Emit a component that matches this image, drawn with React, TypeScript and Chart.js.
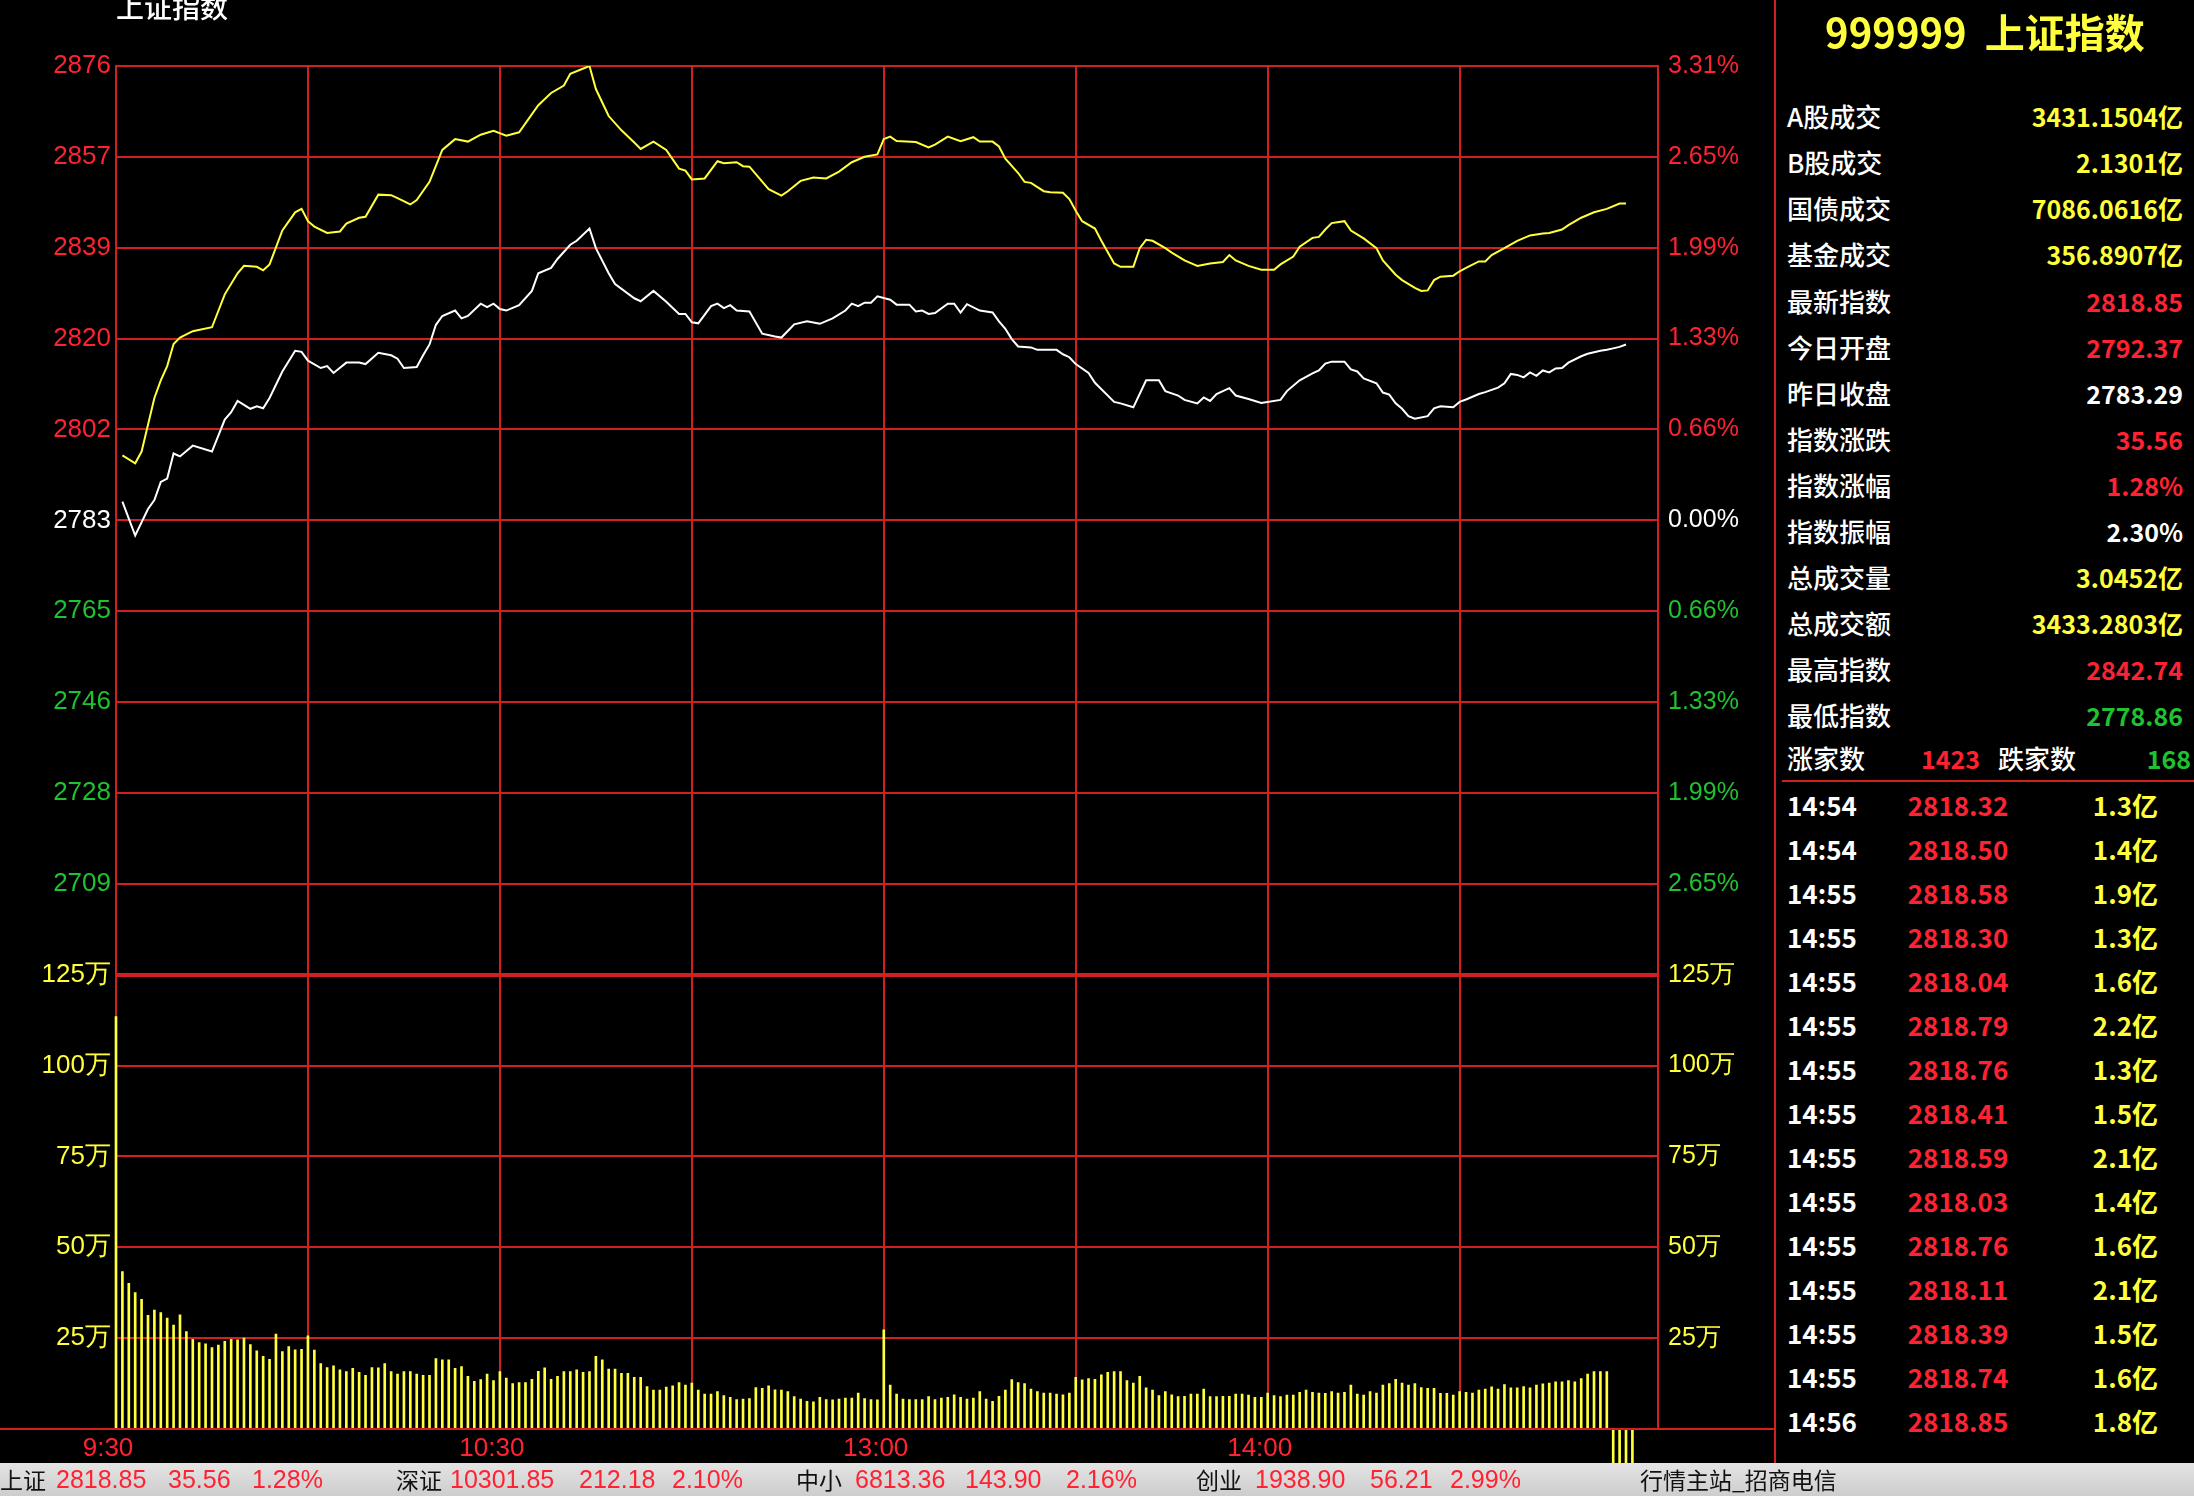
import React, { useEffect, useRef } from 'react';
import { Chart, registerables } from 'chart.js';

Chart.register(...registerables);

// ---------------- data ----------------
const prevClose = 2783.29;
const priceStep = 18.5;
const priceTickLabels = ['2876', '2857', '2839', '2820', '2802', '2783', '2765', '2746', '2728', '2709'];
const pctTickLabels = ['3.31%', '2.65%', '1.99%', '1.33%', '0.66%', '0.00%', '0.66%', '1.33%', '1.99%', '2.65%'];
const volTickValues = [0, 25, 50, 75, 100, 125];
const volTickLabels = ['', '25万', '50万', '75万', '100万', '125万'];
const sessionSlots = 241; // 9:30 .. 15:00, one slot per minute
const timeGridValues = [0, 30, 60, 90, 120, 150, 180, 210];
const timeTickValues = [0, 60, 120, 180];
const timeTickLabels = ['9:30', '10:30', '13:00', '14:00'];

// per-minute volume (万), index = minutes after 9:30
const volumes = [
  113.5, 43.3, 40.1, 37.5, 35.7, 31.3, 32.7, 32.0, 30.5, 28.6,
  31.4, 26.8, 24.7, 23.8, 23.4, 22.4, 23.1, 24.1, 24.7, 24.5,
  25.0, 23.2, 21.5, 20.0, 19.2, 26.1, 21.3, 22.7, 21.8, 21.9,
  25.6, 21.7, 18.0, 16.9, 17.4, 16.3, 15.8, 16.7, 15.6, 14.8,
  16.9, 16.8, 18.0, 15.8, 15.1, 15.8, 15.8, 15.1, 14.8, 14.8,
  19.4, 19.0, 19.0, 16.7, 17.2, 14.5, 13.1, 13.6, 15.1, 13.3,
  15.8, 14.0, 12.5, 12.8, 12.8, 13.7, 15.9, 16.8, 13.7, 14.5,
  15.8, 15.8, 16.3, 15.6, 15.8, 20.0, 19.0, 16.5, 16.5, 15.3,
  15.3, 14.2, 14.2, 11.7, 10.7, 10.7, 11.5, 11.9, 12.8, 12.1,
  12.6, 10.7, 9.6, 9.6, 10.3, 9.2, 8.7, 8.1, 8.2, 8.4,
  11.4, 11.2, 11.9, 10.8, 10.7, 10.3, 8.9, 8.2, 7.6, 7.5,
  8.7, 8.1, 8.0, 8.2, 8.5, 8.5, 9.9, 8.4, 8.1, 8.0,
  27.3, 12.1, 9.6, 8.2, 8.1, 8.1, 8.1, 8.9, 8.1, 8.5,
  8.7, 9.4, 8.7, 8.2, 8.5, 10.3, 8.2, 7.6, 9.0, 10.7,
  13.6, 12.8, 12.5, 11.0, 10.3, 9.9, 9.9, 9.6, 9.4, 9.9,
  14.2, 13.5, 13.9, 13.7, 14.9, 15.6, 15.8, 15.8, 13.3, 12.6,
  14.5, 11.3, 10.7, 9.2, 10.3, 9.4, 8.9, 9.0, 9.6, 9.6,
  11.0, 8.9, 8.9, 9.0, 9.0, 9.6, 9.6, 9.3, 8.7, 8.7,
  9.9, 9.2, 8.9, 9.3, 9.3, 10.1, 10.7, 10.1, 9.9, 9.8,
  10.3, 9.9, 10.1, 12.1, 9.6, 9.3, 10.3, 9.9, 12.1, 12.5,
  13.7, 12.6, 12.1, 12.5, 11.4, 11.2, 11.2, 9.8, 9.8, 9.3,
  10.3, 10.1, 9.9, 10.7, 11.0, 11.6, 11.0, 12.2, 11.3, 11.3,
  11.7, 11.3, 12.1, 12.4, 12.6, 13.0, 13.0, 13.3, 13.0, 13.9,
  15.1, 15.8, 15.8, 15.8, -9.5, -9.5, -9.5, -9.5,
];

// [minute, value]
const yellowLine: [number, number][] = [
  [1, 2796.5], [3, 2794.9], [4, 2797.3], [6, 2808.2], [7, 2811.8], [8, 2814.7], [9, 2819.2], [10, 2820.5],
  [12, 2821.8], [15, 2822.6], [17, 2829.3], [19, 2833.6], [20, 2835.1], [22, 2834.9], [23, 2834.2], [24, 2835.4],
  [26, 2842.3], [28, 2846.0], [29, 2846.7], [30, 2844.2], [31, 2843.1], [33, 2841.8], [35, 2842.1], [36, 2843.7],
  [38, 2844.9], [39, 2845.1], [41, 2849.6], [43, 2849.5], [44, 2848.9], [46, 2847.6], [47, 2848.5], [49, 2852.2],
  [51, 2858.7], [53, 2860.9], [55, 2860.4], [57, 2861.8], [59, 2862.6], [61, 2861.6], [63, 2862.3], [66, 2867.8],
  [68, 2870.3], [70, 2871.8], [71, 2874.2], [74, 2875.8], [75, 2871.1], [77, 2865.6], [79, 2862.7], [81, 2860.2],
  [82, 2858.9], [84, 2860.4], [86, 2858.7], [88, 2854.9], [89, 2854.5], [90, 2852.7], [92, 2852.9], [94, 2856.4],
  [95, 2856.0], [97, 2856.2], [98, 2855.4], [99, 2855.3], [102, 2850.7], [104, 2849.4], [105, 2850.3], [107, 2852.4],
  [109, 2853.1], [111, 2852.9], [113, 2854.3], [115, 2856.2], [117, 2857.3], [119, 2857.8], [120, 2860.9], [121, 2861.4],
  [122, 2860.5], [125, 2860.3], [127, 2859.2], [128, 2859.8], [130, 2861.4], [132, 2860.5], [134, 2861.3], [135, 2860.4],
  [137, 2860.4], [138, 2859.4], [139, 2856.9], [141, 2854.0], [142, 2852.2], [143, 2852.0], [145, 2850.3], [146, 2850.1],
  [148, 2850.0], [149, 2848.7], [150, 2846.3], [151, 2844.2], [153, 2842.7], [154, 2840.2], [156, 2835.6], [157, 2834.9],
  [159, 2834.9], [160, 2838.7], [161, 2840.4], [162, 2840.2], [164, 2838.7], [165, 2837.8], [167, 2836.2], [169, 2835.1],
  [171, 2835.6], [173, 2835.9], [174, 2837.3], [175, 2836.2], [177, 2835.1], [179, 2834.3], [181, 2834.3], [182, 2835.4],
  [184, 2837.0], [185, 2839.0], [187, 2840.8], [188, 2841.0], [189, 2842.5], [190, 2843.8], [192, 2844.2], [193, 2842.3],
  [195, 2840.7], [197, 2838.7], [198, 2836.2], [200, 2833.3], [201, 2832.2], [203, 2830.6], [204, 2830.0], [205, 2830.1],
  [206, 2832.2], [207, 2832.9], [209, 2833.1], [210, 2834.0], [211, 2834.7], [213, 2836.0], [214, 2836.0], [215, 2837.3],
  [217, 2838.7], [219, 2840.2], [221, 2841.3], [223, 2841.7], [224, 2841.8], [226, 2842.5], [227, 2843.4], [229, 2844.9],
  [231, 2846.0], [233, 2846.7], [235, 2847.8], [236, 2847.8],
];

const whiteLine: [number, number][] = [
  [1, 2787.1], [3, 2780.2], [5, 2785.6], [6, 2787.4], [7, 2791.1], [8, 2791.8], [9, 2796.9], [10, 2796.3],
  [12, 2798.5], [15, 2797.3], [17, 2803.8], [18, 2805.3], [19, 2807.6], [21, 2806.0], [22, 2806.5], [23, 2806.1],
  [24, 2808.2], [26, 2813.6], [28, 2817.8], [29, 2817.6], [30, 2815.8], [32, 2814.3], [33, 2814.7], [34, 2813.3],
  [36, 2815.4], [38, 2815.4], [39, 2815.1], [41, 2817.4], [43, 2816.9], [44, 2816.2], [45, 2814.3], [47, 2814.5],
  [48, 2816.9], [49, 2819.1], [50, 2823.1], [51, 2824.9], [53, 2826.0], [54, 2824.4], [55, 2824.9], [57, 2827.4],
  [58, 2826.7], [59, 2827.4], [60, 2826.3], [61, 2826.0], [63, 2827.1], [65, 2830.0], [66, 2833.6], [68, 2834.7],
  [69, 2836.5], [71, 2839.4], [72, 2840.2], [74, 2842.7], [75, 2838.7], [77, 2833.6], [78, 2831.4], [81, 2828.5],
  [82, 2827.9], [84, 2830.0], [86, 2827.8], [88, 2825.3], [89, 2825.3], [90, 2823.6], [91, 2823.4], [93, 2826.9],
  [94, 2827.4], [95, 2826.5], [96, 2827.1], [97, 2826.0], [99, 2825.8], [101, 2821.3], [103, 2820.7], [104, 2820.5],
  [106, 2823.2], [108, 2823.8], [110, 2823.3], [112, 2824.4], [114, 2826.0], [115, 2827.4], [116, 2826.9], [117, 2827.6],
  [118, 2827.6], [119, 2828.9], [121, 2828.2], [122, 2827.2], [124, 2827.2], [125, 2825.8], [126, 2826.0], [127, 2825.3],
  [128, 2825.5], [130, 2827.4], [131, 2827.4], [132, 2825.6], [133, 2827.3], [135, 2826.0], [137, 2825.6], [138, 2823.8],
  [139, 2822.3], [140, 2820.2], [141, 2818.7], [143, 2818.5], [144, 2818.0], [147, 2818.0], [148, 2817.1], [149, 2816.5],
  [150, 2815.1], [152, 2813.3], [153, 2811.3], [156, 2807.4], [157, 2807.1], [159, 2806.3], [161, 2811.8], [163, 2811.8],
  [164, 2809.6], [166, 2808.7], [167, 2807.8], [169, 2807.1], [170, 2808.3], [171, 2807.6], [172, 2809.0], [174, 2810.2],
  [175, 2808.7], [177, 2808.0], [179, 2807.2], [182, 2807.8], [183, 2809.6], [185, 2811.8], [187, 2813.2], [188, 2813.8],
  [189, 2815.2], [190, 2815.6], [192, 2815.6], [193, 2814.0], [194, 2813.6], [195, 2812.2], [197, 2811.2], [198, 2809.3],
  [199, 2808.9], [200, 2807.1], [201, 2806.0], [202, 2804.5], [203, 2804.0], [205, 2804.5], [206, 2806.1], [207, 2806.5],
  [209, 2806.3], [210, 2807.4], [211, 2807.9], [213, 2809.0], [214, 2809.4], [216, 2810.3], [217, 2811.2], [218, 2813.1],
  [219, 2812.9], [220, 2812.4], [221, 2813.4], [222, 2812.7], [223, 2813.8], [224, 2813.4], [225, 2814.2], [226, 2814.3],
  [227, 2815.4], [229, 2816.7], [230, 2817.2], [232, 2817.8], [233, 2818.0], [234, 2818.3], [235, 2818.6], [236, 2819.1],
];

const statLabels = ['A股成交', 'B股成交', '国债成交', '基金成交', '最新指数', '今日开盘', '昨日收盘', '指数涨跌', '指数涨幅', '指数振幅', '总成交量', '总成交额', '最高指数', '最低指数'];
const statValues = ['3431.1504亿', '2.1301亿', '7086.0616亿', '356.8907亿', '2818.85', '2792.37', '2783.29', '35.56', '1.28%', '2.30%', '3.0452亿', '3433.2803亿', '2842.74', '2778.86'];
const statTone = ['y', 'y', 'y', 'y', 'r', 'r', 'w', 'r', 'r', 'w', 'y', 'y', 'r', 'g'];

const tradeTimes = ['14:54', '14:54', '14:55', '14:55', '14:55', '14:55', '14:55', '14:55', '14:55', '14:55', '14:55', '14:55', '14:55', '14:55', '14:56'];
const tradePrices = ['2818.32', '2818.50', '2818.58', '2818.30', '2818.04', '2818.79', '2818.76', '2818.41', '2818.59', '2818.03', '2818.76', '2818.11', '2818.39', '2818.74', '2818.85'];
const tradeVols = ['1.3亿', '1.4亿', '1.9亿', '1.3亿', '1.6亿', '2.2亿', '1.3亿', '1.5亿', '2.1亿', '1.4亿', '1.6亿', '2.1亿', '1.5亿', '1.6亿', '1.8亿'];

const barNames = ['上证', '深证', '中小', '创业'];
const barPrices = ['2818.85', '10301.85', '6813.36', '1938.90'];
const barChanges = ['35.56', '212.18', '143.90', '56.21'];
const barPcts = ['1.28%', '2.10%', '2.16%', '2.99%'];

// ---------------- styles ----------------
const RED_GRID = '#d21f1f';
const RED_TEXT = '#ff2233';
const GREEN_TEXT = '#1fc230';
const YELLOW = '#ffff3c';
const WHITE = '#ffffff';
const CJK = '"Noto Sans CJK SC", "Noto Sans", sans-serif';
const LAT = '"Liberation Sans", Arial, sans-serif';
const toneColor: Record<string, string> = { y: YELLOW, r: RED_TEXT, w: WHITE, g: GREEN_TEXT };

const W = 2194;
const H = 1496;
const CANVAS_W = 1775;
const CANVAS_H = 1463;

function sideColor(j: number) {
  const k = j - 5;
  return k > 0 ? RED_TEXT : k === 0 ? WHITE : GREEN_TEXT;
}

type TP = {
  x: number; y: number; align?: 'left' | 'right' | 'center'; size?: number; color?: string;
  weight?: number; family?: string; children: React.ReactNode; width?: number;
};
function T({ x, y, align = 'left', size = 26, color = WHITE, weight = 400, family = CJK, children, width = 400 }: TP) {
  const style: React.CSSProperties = {
    position: 'absolute', top: y - 25, height: 50, lineHeight: '50px', fontSize: size, color,
    fontWeight: weight, fontFamily: family, whiteSpace: 'pre',
  };
  if (align === 'left') style.left = x;
  else if (align === 'right') style.right = W - x;
  else { style.left = x - width / 2; style.width = width; style.textAlign = 'center'; }
  return <div style={style}>{children}</div>;
}

export default function App() {
  const ref = useRef<HTMLCanvasElement>(null);

  useEffect(() => {
    document.body.style.margin = '0';
    const canvas = ref.current;
    if (!canvas) return;
    const pctStep = (priceStep / prevClose) * 100;
    const priceLevels = Array.from({ length: 11 }, (_, j) => prevClose + (j - 5) * priceStep);
    const pctLevels = Array.from({ length: 11 }, (_, j) => (j - 5) * pctStep);
    const tickFont = { family: LAT, size: 26 };
    const grid = (wideIndex: number) => ({
      color: RED_GRID,
      lineWidth: (c: any) => (c.index === wideIndex ? 4 : 2),
      drawTicks: false,
    });
    const border = { display: true, color: RED_GRID, width: 2 };

    const chart = new Chart(canvas, {
      type: 'line',
      data: {
        datasets: [
          {
            type: 'line', label: '不加权', data: yellowLine.map(([x, y]) => ({ x, y })),
            xAxisID: 'x', yAxisID: 'yPrice', borderColor: YELLOW, borderWidth: 2, pointRadius: 0, tension: 0, fill: false,
          },
          {
            type: 'line', label: '上证指数', data: whiteLine.map(([x, y]) => ({ x, y })),
            xAxisID: 'x', yAxisID: 'yPrice', borderColor: WHITE, borderWidth: 2, pointRadius: 0, tension: 0, fill: false,
          },
          {
            type: 'bar', label: '成交量', data: volumes.map((y, x) => ({ x, y })),
            xAxisID: 'x', yAxisID: 'yVol', backgroundColor: YELLOW, borderWidth: 0, barThickness: 2,
            clip: { left: 4, right: 4, top: 0, bottom: 40 } as any,
          },
        ] as any,
      },
      options: {
        animation: false,
        responsive: false,
        devicePixelRatio: 1,
        layout: { padding: { top: 66, left: 0, right: 0, bottom: 0 } },
        plugins: { legend: { display: false }, tooltip: { enabled: false } },
        scales: {
          x: {
            type: 'linear', position: 'bottom', min: 0, max: sessionSlots, offset: false,
            afterBuildTicks: (s: any) => { s.ticks = timeGridValues.map((v) => ({ value: v })); },
            afterFit: (s: any) => { s.height = CANVAS_H - 1429; },
            ticks: {
              autoSkip: false, maxRotation: 0, color: RED_TEXT, font: tickFont, padding: 4, labelOffset: -8,
              callback: (v: any) => { const i = timeTickValues.indexOf(Number(v)); return i >= 0 ? timeTickLabels[i] : ''; },
            },
            grid: { color: RED_GRID, lineWidth: 2, drawTicks: false, offset: false },
            border,
          },
          yPrice: {
            type: 'linear', position: 'left', stack: 'L', stackWeight: 2, weight: 1,
            min: priceLevels[0], max: priceLevels[10],
            afterBuildTicks: (s: any) => { s.ticks = priceLevels.map((v) => ({ value: v })); },
            afterFit: (s: any) => { s.width = 116; },
            ticks: {
              autoSkip: false, font: tickFont, padding: 5,
              color: (c: any) => sideColor(c.index),
              callback: (_v: any, j: number) => (j === 0 ? '' : priceTickLabels[10 - j]),
            },
            grid: grid(0), border,
          },
          yVol: {
            type: 'linear', position: 'left', stack: 'L', stackWeight: 1, weight: 0,
            min: 0, max: 125,
            afterBuildTicks: (s: any) => { s.ticks = volTickValues.map((v) => ({ value: v })); },
            afterFit: (s: any) => { s.width = 116; },
            ticks: {
              autoSkip: false, font: tickFont, padding: 5, color: YELLOW,
              callback: (_v: any, j: number) => volTickLabels[j],
            },
            grid: grid(5), border,
          },
          yPct: {
            type: 'linear', position: 'right', stack: 'R', stackWeight: 2, weight: 0,
            min: pctLevels[0], max: pctLevels[10],
            afterBuildTicks: (s: any) => { s.ticks = pctLevels.map((v) => ({ value: v })); },
            afterFit: (s: any) => { s.width = CANVAS_W - 1658; },
            ticks: {
              autoSkip: false, font: { family: LAT, size: 25 }, padding: 10,
              color: (c: any) => sideColor(c.index),
              callback: (_v: any, j: number) => (j === 0 ? '' : pctTickLabels[10 - j]),
            },
            grid: { ...grid(0), drawOnChartArea: false }, border,
          },
          yVolR: {
            type: 'linear', position: 'right', stack: 'R', stackWeight: 1, weight: 1,
            min: 0, max: 125,
            afterBuildTicks: (s: any) => { s.ticks = volTickValues.map((v) => ({ value: v })); },
            afterFit: (s: any) => { s.width = CANVAS_W - 1658; },
            ticks: {
              autoSkip: false, font: { family: LAT, size: 25 }, padding: 10, color: YELLOW,
              callback: (_v: any, j: number) => volTickLabels[j],
            },
            grid: { ...grid(5), drawOnChartArea: false }, border,
          },
        } as any,
      },
    });
    return () => chart.destroy();
  }, []);

  const statRowY = (i: number) => 116.3 + i * 46.05;
  const tradeRowY = (i: number) => 805 + i * 43.98;
  const barNameX = [0, 396, 796, 1196];
  const barPriceX = [56, 450, 855, 1255];
  const barChangeX = [168, 579, 965, 1370];
  const barPctX = [252, 672, 1066, 1450];

  return (
    <div style={{ position: 'fixed', left: 0, top: 0, width: W, height: H, background: '#000', overflow: 'hidden' }}>
      <canvas ref={ref} width={CANVAS_W} height={CANVAS_H}
        style={{ position: 'absolute', left: 0, top: 0, width: CANVAS_W, height: CANVAS_H }} />

      {/* frame lines */}
      <div style={{ position: 'absolute', left: 0, top: 1428, width: CANVAS_W, height: 2, background: RED_GRID }} />
      <div style={{ position: 'absolute', left: 1774, top: 0, width: 2, height: CANVAS_H, background: RED_GRID }} />
      <div style={{ position: 'absolute', left: 1782, top: 780, width: W - 1782, height: 2, background: RED_GRID }} />

      {/* chart title */}
      <T x={116} y={6} size={28} weight={500}>上证指数</T>

      {/* right panel */}
      <T x={1985} y={31} align="center" width={420} size={40} weight={700} color={YELLOW}>{'999999  上证指数'}</T>
      {statLabels.map((l, i) => (
        <T key={'sl' + i} x={1787} y={statRowY(i)} size={26} weight={500}>{l}</T>
      ))}
      {statValues.map((v, i) => (
        <T key={'sv' + i} x={2183} y={statRowY(i)} align="right" size={25} weight={700} color={toneColor[statTone[i]]}>{v}</T>
      ))}
      <T x={1787} y={758} size={26} weight={500}>涨家数</T>
      <T x={1980} y={758} align="right" size={25} weight={700} color={RED_TEXT}>1423</T>
      <T x={1998} y={758} size={26} weight={500}>跌家数</T>
      <T x={2191} y={758} align="right" size={25} weight={700} color={GREEN_TEXT}>168</T>

      {tradeTimes.map((t, i) => (
        <T key={'tt' + i} x={1787} y={tradeRowY(i)} size={26} weight={700}>{t}</T>
      ))}
      {tradePrices.map((p, i) => (
        <T key={'tp' + i} x={1958} y={tradeRowY(i)} align="center" width={200} size={26} weight={700} color={RED_TEXT}>{p}</T>
      ))}
      {tradeVols.map((v, i) => (
        <T key={'tv' + i} x={2158} y={tradeRowY(i)} align="right" size={26} weight={700} color={YELLOW}>{v}</T>
      ))}

      {/* status bar */}
      <div style={{ position: 'absolute', left: 0, top: CANVAS_H, width: W, height: H - CANVAS_H, background: 'linear-gradient(#e4e4e4, #cdcdcd)' }} />
      {barNames.map((n, i) => (
        <T key={'bn' + i} x={barNameX[i]} y={1479} size={23} color="#111">{n}</T>
      ))}
      {barPrices.map((n, i) => (
        <T key={'bp' + i} x={barPriceX[i]} y={1479} size={25} family={LAT} color={RED_TEXT}>{n}</T>
      ))}
      {barChanges.map((n, i) => (
        <T key={'bc' + i} x={barChangeX[i]} y={1479} size={25} family={LAT} color={RED_TEXT}>{n}</T>
      ))}
      {barPcts.map((n, i) => (
        <T key={'bq' + i} x={barPctX[i]} y={1479} size={25} family={LAT} color={RED_TEXT}>{n}</T>
      ))}
      <T x={1640} y={1479} size={23} color="#111">行情主站_招商电信</T>
    </div>
  );
}
